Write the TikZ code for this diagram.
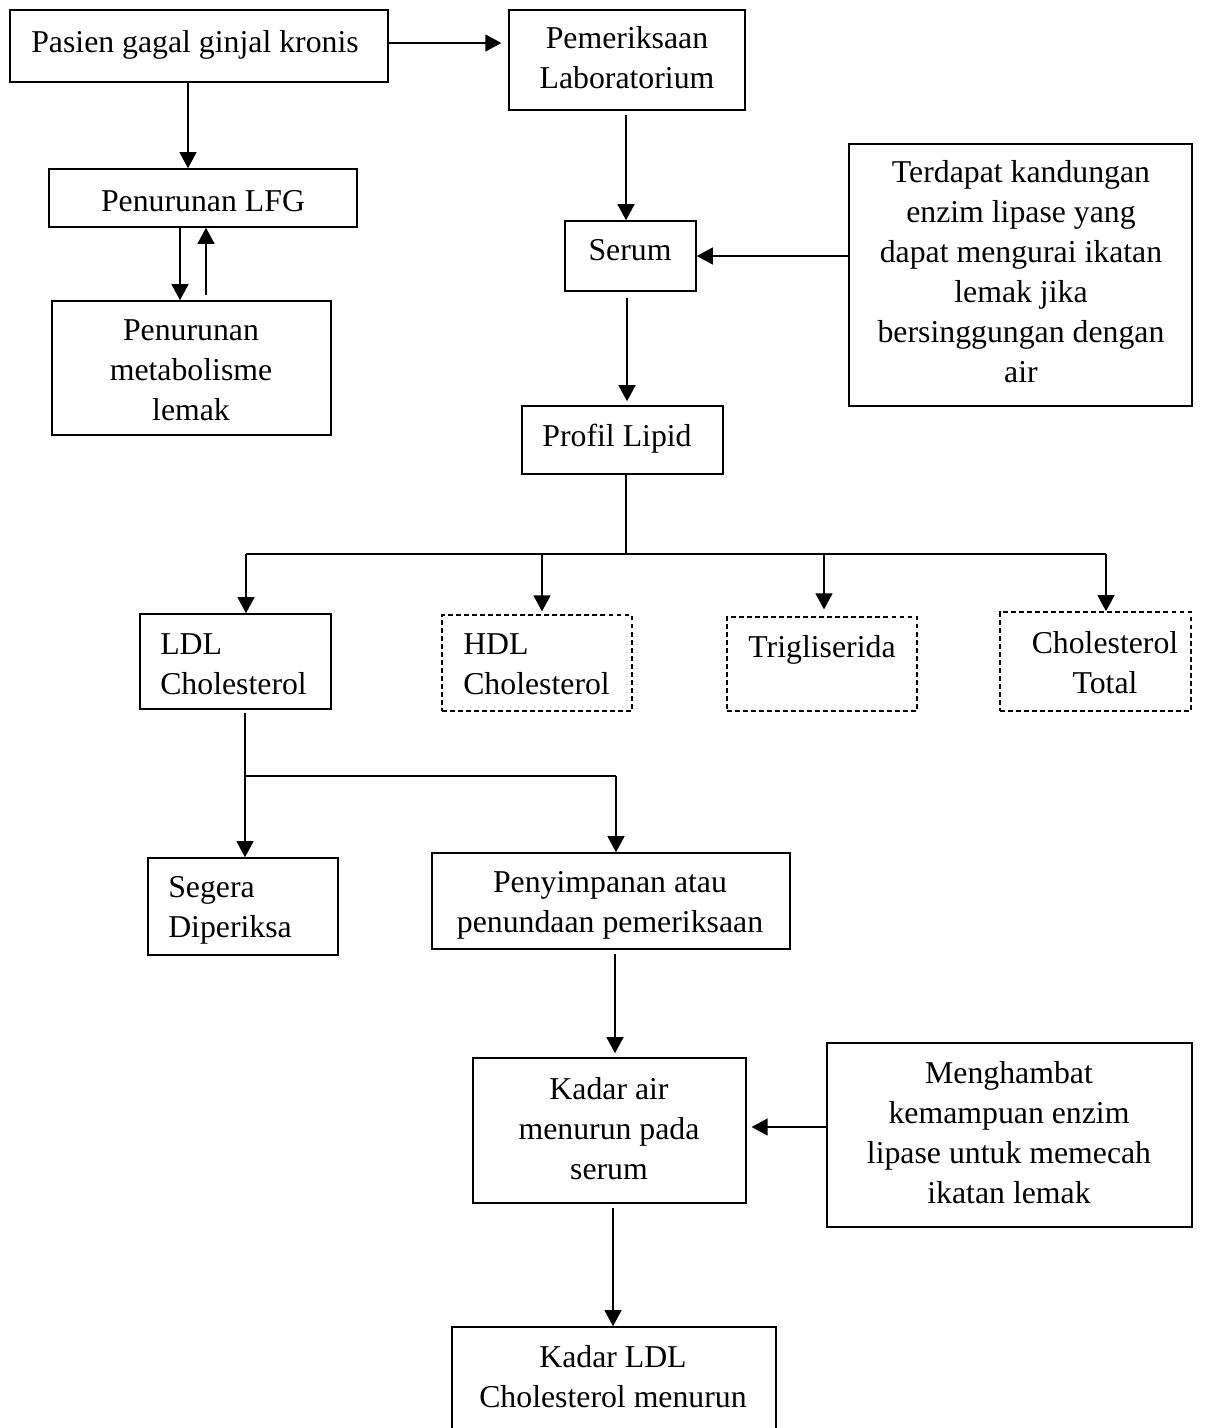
\documentclass[tikz,border=0pt]{standalone}
\usepackage{fontspec}
\setmainfont{Liberation Serif}
\usetikzlibrary{arrows.meta,fit}
\newcommand\myfs{\fontsize{22.6}{28.45}\selectfont}
\begin{document}
\begin{tikzpicture}[x=0.025cm,y=-0.025cm,
  bx/.style={draw, line width=1.1pt, inner sep=0pt},
  dbx/.style={bx, dash pattern=on 3.5pt off 2.2pt},
  txt/.style={font=\myfs, align=center, inner sep=0pt},
  ltxt/.style={txt, align=left, anchor=west},
  ln/.style={line width=1.3pt},
  arr/.style={ln, -{Triangle[length=0.4cm,width=0.42cm]}}]
\useasboundingbox (0,0) rectangle (1218,1428);
\clip (0,0) rectangle (1218,1428);
% boxes
\node[bx, fit={(10,10)(388,82)}] (pasien) {};
\node[txt] (tpasien) at (195,45) {Pasien gagal ginjal kronis};
\node[bx, fit={(509,10)(745,110)}] (lab) {};
\node[txt] (tlab) at (627,58) {Pemeriksaan\\Laboratorium};
\node[bx, fit={(49,169)(357,227)}] (lfg) {};
\node[txt] (tlfg) at (203,201) {Penurunan LFG};
\node[bx, fit={(52,301)(331,435)}] (metab) {};
\node[txt] (tmetab) at (191,370) {Penurunan\\metabolisme\\lemak};
\node[bx, fit={(565,221)(696,291)}] (serum) {};
\node[txt] (tserum) at (630,250) {Serum};
\node[bx, fit={(849,144)(1192,406)}] (big) {};
\node[txt] (tbig) at (1021,272) {Terdapat kandungan\\enzim lipase yang\\dapat mengurai ikatan\\lemak jika\\bersinggungan dengan\\air};
\node[bx, fit={(522,406)(723,474)}] (profil) {};
\node[txt] (tprofil) at (617,439) {Profil Lipid};
\node[bx, fit={(140,614)(331,709)}] (ldl) {};
\node[ltxt] (tldl) at (160,664) {LDL\\Cholesterol};
\node[dbx, fit={(442,615)(632,711)}] (hdl) {};
\node[ltxt] (thdl) at (463,664) {HDL\\Cholesterol};
\node[dbx, fit={(727,617)(917,711)}] (trig) {};
\node[txt] (ttrig) at (822,650) {Trigliserida};
\node[dbx, fit={(1000,612)(1191,711)}] (total) {};
\node[txt] (ttotal) at (1105,663) {Cholesterol\\Total};
\node[bx, fit={(148,858)(338,955)}] (segera) {};
\node[ltxt] (tsegera) at (168,910) {Segera\\Diperiksa};
\node[bx, fit={(432,853)(790,949)}] (simpan) {};
\node[txt] (tsimpan) at (610,905) {Penyimpanan atau\\penundaan pemeriksaan};
\node[bx, fit={(473,1058)(746,1203)}] (kadar) {};
\node[txt] (tkadar) at (609,1129) {Kadar air\\menurun pada\\serum};
\node[bx, fit={(827,1043)(1192,1227)}] (hambat) {};
\node[txt] (thambat) at (1009,1133) {Menghambat\\kemampuan enzim\\lipase untuk memecah\\ikatan lemak};
\node[bx, fit={(452,1327)(776,1450)}] (ldlturun) {};
\node[txt] (tldlturun) at (613,1377) {Kadar LDL\\Cholesterol menurun};
% helper coordinates
\coordinate (ay43) at (0,43);
\coordinate (ax188) at (188,0);
\coordinate (ax180) at (180,0);
\coordinate (ax206) at (206,0);
\coordinate (ax626) at (626,0);
\coordinate (ay256) at (0,256);
\coordinate (ax627) at (627,0);
\coordinate (jn) at (626,554);
\coordinate (b1) at (246,554);
\coordinate (b2) at (542,554);
\coordinate (b3) at (824,554);
\coordinate (b4) at (1106,554);
\coordinate (lj) at (245,776);
\coordinate (lr) at (616,776);
\coordinate (ax615) at (615,0);
\coordinate (ay1127) at (0,1127);
\coordinate (ax613) at (613,0);
% connectors
\draw[arr, shorten >=0.17cm] (pasien.east |- ay43) -- (lab.west |- ay43);
\draw[arr] (pasien.south -| ax188) -- (lfg.north -| ax188);
\draw[arr] (lfg.south -| ax180) -- (metab.north -| ax180);
\draw[arr, shorten <=0.12cm] (metab.north -| ax206) -- (lfg.south -| ax206);
\draw[arr, shorten <=0.1cm] (lab.south -| ax626) -- (serum.north -| ax626);
\draw[arr] (big.west |- ay256) -- (serum.east |- ay256);
\draw[arr, shorten <=0.15cm, shorten >=0.1cm] (serum.south -| ax627) -- (profil.north -| ax627);
\draw[ln] (profil.south -| jn) -- (jn);
\draw[ln] (b1) -- (b4);
\draw[arr] (b1) -- (ldl.north -| b1);
\draw[arr, shorten >=0.07cm] (b2) -- (hdl.north -| b2);
\draw[arr, shorten >=0.17cm] (b3) -- (trig.north -| b3);
\draw[arr] (b4) -- (total.north -| b4);
\draw[arr, shorten <=0.08cm] (ldl.south -| lj) -- (segera.north -| lj);
\draw[ln] (lj) -- (lr);
\draw[arr] (lr) -- (simpan.north -| lr);
\draw[arr, shorten <=0.1cm, shorten >=0.1cm] (simpan.south -| ax615) -- (kadar.north -| ax615);
\draw[arr, shorten >=0.12cm] (hambat.west |- ay1127) -- (kadar.east |- ay1127);
\draw[arr, shorten <=0.1cm] (kadar.south -| ax613) -- (ldlturun.north -| ax613);
\end{tikzpicture}
\end{document}
